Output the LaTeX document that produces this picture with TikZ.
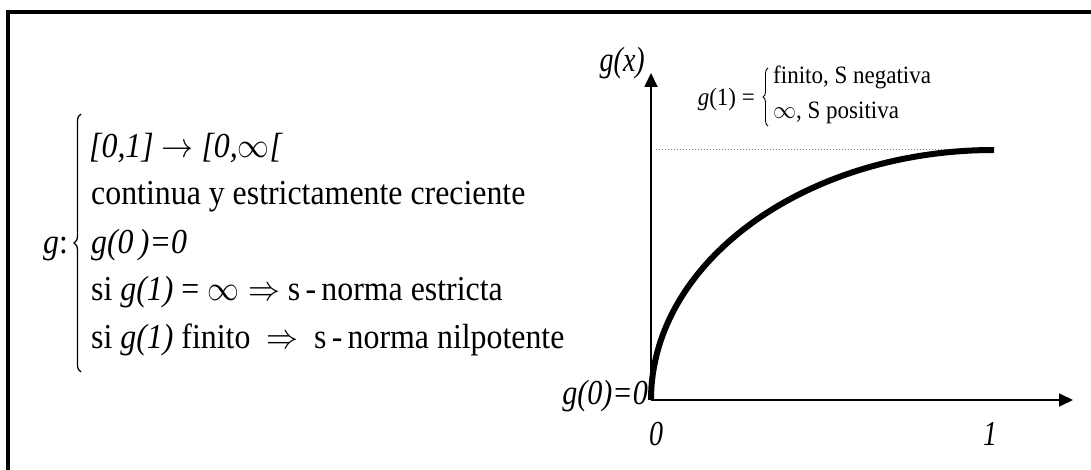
\RequirePackage{fix-cm}
\documentclass[tikz,border=0pt]{standalone}
\usepackage{fontspec}
\setmainfont{Liberation Serif}
\usetikzlibrary{decorations.pathreplacing,arrows.meta}
\newcommand{\nrw}[2][0.91]{\scalebox{#1}[1]{#2}}
\begin{document}
\begin{tikzpicture}[x=1pt,y=-1pt,
  bigtxt/.style={inner sep=0pt,font=\fontsize{35}{40}\selectfont},
  smalltxt/.style={inner sep=0pt,font=\fontsize{25}{29}\selectfont},
  axis/.style={line width=1.8pt,-{Triangle[length=14pt,width=13pt]}},
  frame/.style={line width=4pt}]
\useasboundingbox (0,0) rectangle (1091,470);
% frame (clipped on right and bottom)
\coordinate (fl) at (8,470);
\coordinate (fc) at (8,12);
\coordinate (fr) at (1091,12);
\draw[frame] (fl) -- (fc) -- (fr);
% left block
\node[bigtxt,anchor=base west] (gl) at (43,254) {\nrw{\textit{g}:}};
\coordinate (bb) at (81,372);
\coordinate (bt) at (81,114);
\draw[line width=1.3pt,decorate,decoration={brace,amplitude=7pt,aspect=0.5}] (bb) -- (bt);
\node[bigtxt,anchor=base west] (l1) at (89,158) {\nrw{\textit{[0,1]} $\rightarrow$ \textit{[0,}$\infty$\textit{[}}};
\node[bigtxt,anchor=base west] (l2) at (91,205) {\nrw{continua y estrictamente creciente}};
\node[bigtxt,anchor=base west] (l3) at (91,253) {\nrw{\textit{g(0\,)=0}}};
\node[bigtxt,anchor=base west] (l4) at (91,300) {\nrw{si \textit{g(1)} = $\infty\Rightarrow$ s\,-\,norma estricta}};
\node[bigtxt,anchor=base west] (l5) at (91,348) {\nrw{si \textit{g(1)} finito\ \ $\Rightarrow$\ \ s\,-\,norma nilpotente}};
% axes
\coordinate (O) at (651,400);
\coordinate (Ytip) at (651,73);
\coordinate (Xtip) at (1073,400);
\draw[axis] (O) -- (Ytip);
\draw[axis] (O) -- (Xtip);
% asymptote
\coordinate (a1) at (656,150);
\coordinate (a2) at (994,150);
\draw[gray,line width=1pt,dotted] (a1) -- (a2);
% curve
\coordinate (c0) at (651,400);
\coordinate (c1) at (994,150);
\draw[line width=6pt] (c0) .. controls (651,262) and (805,150) .. (c1);
% labels
\node[bigtxt,anchor=base east] (gx) at (645,72) {\nrw[0.8]{\textit{g(x)}}};
\node[bigtxt,anchor=base east] (g0) at (648,404) {\nrw[0.86]{\textit{g(0)=0}}};
\node[bigtxt,anchor=base] (x0) at (656,445) {\nrw[0.8]{\textit{0}}};
\node[bigtxt,anchor=base] (x1) at (990,445) {\nrw[0.8]{\textit{1}}};
% g(1) cases
\node[smalltxt,anchor=base east] (g1) at (755,106) {\nrw[0.92]{\textit{g}(1) =}};
\coordinate (sb) at (768,126);
\coordinate (st) at (768,68);
\draw[line width=0.9pt,decorate,decoration={brace,amplitude=5pt}] (sb) -- (st);
\node[smalltxt,anchor=base west] (c1t) at (773,84) {\nrw[0.92]{finito, S negativa}};
\node[smalltxt,anchor=base west] (c2t) at (773,119) {\nrw[0.92]{$\infty$, S positiva}};
\end{tikzpicture}
\end{document}
